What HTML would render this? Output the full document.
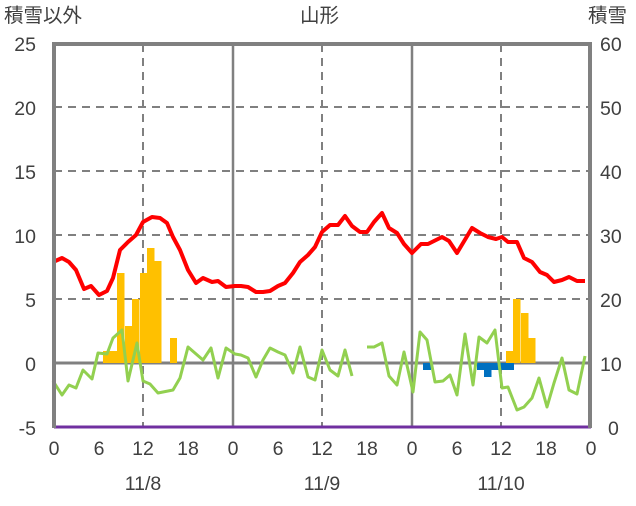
<!DOCTYPE html>
<html><head><meta charset="utf-8"><style>
body{margin:0;background:#fff}
text{font-family:"Liberation Sans","Noto Sans CJK JP",sans-serif;fill:#404040;font-size:19.5px}
</style></head><body>
<svg width="636" height="501" xmlns="http://www.w3.org/2000/svg">
<g stroke="#808080" stroke-width="2" stroke-dasharray="8,6">
<line x1="54" y1="299" x2="591" y2="299"/><line x1="54" y1="235" x2="591" y2="235"/>
<line x1="54" y1="171" x2="591" y2="171"/><line x1="54" y1="107" x2="591" y2="107"/>
<line x1="143" y1="44" x2="143" y2="427"/><line x1="322" y1="44" x2="322" y2="427"/><line x1="501" y1="44" x2="501" y2="427"/>
</g>
<g stroke="#808080" stroke-width="2.5">
<line x1="233" y1="44" x2="233" y2="427"/><line x1="412" y1="44" x2="412" y2="427"/>
<line x1="54" y1="363" x2="591" y2="363" stroke-width="3"/>
</g>
<g fill="#FFC000">
<rect x="103" y="351" width="7.5" height="12"/><rect x="110" y="351" width="7.5" height="12"/>
<rect x="117" y="273" width="7.5" height="90"/><rect x="125" y="326" width="7.5" height="37"/>
<rect x="132" y="299" width="7.5" height="64"/><rect x="140" y="273" width="7.5" height="90"/>
<rect x="147" y="248" width="7.5" height="115"/><rect x="154" y="261" width="7.5" height="102"/>
<rect x="170" y="338" width="7" height="25"/>
<rect x="506" y="351" width="7.5" height="12"/><rect x="513" y="299" width="7.5" height="64"/>
<rect x="521" y="313" width="7.5" height="50"/><rect x="528" y="338" width="7.5" height="25"/>
</g>
<g fill="#0070C0">
<rect x="423" y="363" width="8" height="7"/><rect x="477" y="363" width="37" height="7"/><rect x="484" y="363" width="7.5" height="14"/>
</g>
<polyline fill="none" stroke="#92D050" stroke-width="3" stroke-linejoin="round" points="53,381 62,395 69,385 76,388 83,370 92,379 98,353 107,354 113,338 122,330 128,381 137,343 143,381 150,384 158,393 173,390 180,378 188,347 203,360 211,348 218,378 226,348 235,354 241,355 248,358 256,377 263,360 270,348 278,352 285,355 293,373 300,347 308,377 315,380 322,350 330,370 338,376 345,350 352,376"/>
<polyline fill="none" stroke="#92D050" stroke-width="3" stroke-linejoin="round" points="367,347 374,347 382,343 389,376 397,385 404,352 413,392 420,332 427,340 435,382 443,381 450,375 457,395 465,334 473,385 479,337 487,343 495,330 502,388 508,387 517,410 524,407 532,398 539,378 547,407 554,383 562,358 569,390 577,394 585,356"/>
<polyline fill="none" stroke="#FF0000" stroke-width="4" stroke-linejoin="round" points="53,262 62,258 69,262 76,270 84,289 91,286 99,295 107,291 113,278 120,250 128,242 136,235 143,222 152,217 160,218 167,223 173,237 180,250 188,270 196,283 203,278 212,282 218,281 226,287 235,286 241,286 248,287 256,292 263,292 270,291 278,286 285,283 293,273 300,262 308,255 315,247 322,232 330,225 338,225 345,216 352,226 360,232 367,232 374,222 382,213 389,228 397,233 404,244 412,253 421,244 428,244 442,237 449,241 457,253 472,228 480,233 488,237 496,239 502,237 508,242 517,242 524,258 532,262 540,272 547,275 554,282 562,280 569,277 577,281 585,281"/>
<line x1="54" y1="427" x2="591" y2="427" stroke="#7030A0" stroke-width="3"/>
<path d="M54,428 V44 H590 V428" fill="none" stroke="#808080" stroke-width="4"/>
<text x="4" y="22">積雪以外</text><text x="300" y="22">山形</text><text x="588" y="22">積雪</text>
<g text-anchor="end">
<text x="36" y="51">25</text><text x="36" y="115">20</text><text x="36" y="179">15</text><text x="36" y="243">10</text>
<text x="36" y="307">5</text><text x="36" y="371">0</text><text x="36" y="435">-5</text>
</g>
<g text-anchor="start">
<text x="600" y="51">60</text><text x="600" y="115">50</text><text x="600" y="179">40</text><text x="600" y="243">30</text>
<text x="600" y="307">20</text><text x="600" y="371">10</text><text x="608" y="435">0</text>
</g>
<g text-anchor="middle">
<text x="54" y="455">0</text><text x="99" y="455">6</text><text x="143" y="455">12</text><text x="188" y="455">18</text>
<text x="233" y="455">0</text><text x="278" y="455">6</text><text x="322" y="455">12</text><text x="367" y="455">18</text>
<text x="412" y="455">0</text><text x="457" y="455">6</text><text x="501" y="455">12</text><text x="546" y="455">18</text>
<text x="591" y="455">0</text>
<text x="143" y="490">11/8</text><text x="322" y="490">11/9</text><text x="501" y="490">11/10</text>
</g>
</svg>
</body></html>
